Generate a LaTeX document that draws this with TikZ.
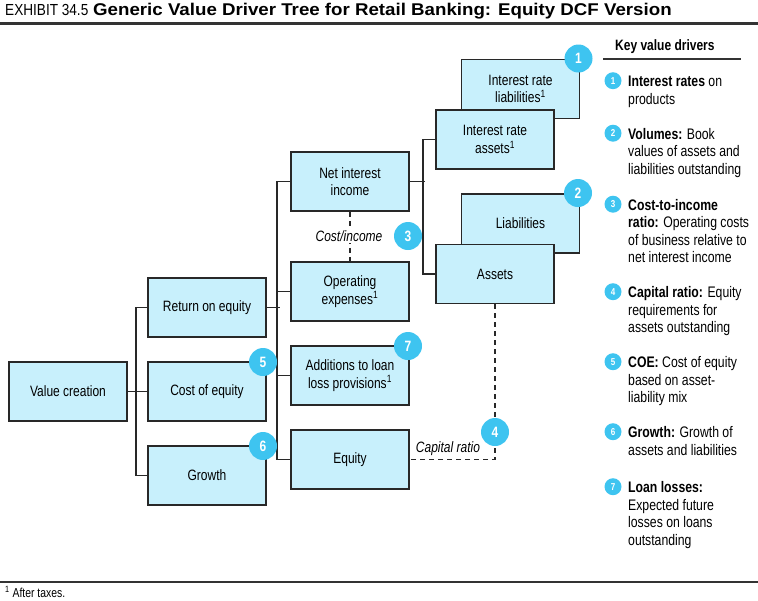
\documentclass[tikz,border=0pt]{standalone}
\usepackage{fontspec}
\setmainfont{Liberation Sans}[FakeStretch=0.8]
\newfontfamily\titlefont{Liberation Sans}[FakeStretch=0.85]
\newfontfamily\titlefontb{Liberation Sans}[FakeStretch=1.1]
\definecolor{boxfill}{RGB}{200,240,252}
\definecolor{badge}{RGB}{62,196,240}
\definecolor{edge}{RGB}{40,40,40}
\begin{document}
\begin{tikzpicture}[x=1pt,y=-1pt,
  box/.style={draw=edge, line width=1.6pt, fill=boxfill, minimum width=118pt, minimum height=59pt, inner sep=0pt, align=center, font=\fontsize{15}{17.5}\selectfont},
  badgeb/.style={circle, fill=badge, minimum size=28pt, inner sep=0pt, text=white, font=\bfseries\fontsize{15}{15}\selectfont},
  badges/.style={circle, fill=badge, minimum size=17pt, inner sep=0pt, text=white, font=\bfseries\fontsize{10}{10}\selectfont},
  link/.style={draw=edge, line width=1.6pt},
  dlink/.style={draw=edge, line width=1.6pt, dash pattern=on 5pt off 4pt},
  lab/.style={fill=white, inner sep=1pt, font=\itshape\fontsize{15}{15}\selectfont},
  keytext/.style={anchor=base west, inner sep=0pt, align=left, font=\fontsize{15.3}{17.6}\selectfont},
]
\useasboundingbox (0,0) rectangle (758,600);
% title
\node[anchor=base west, inner sep=0pt, font=\titlefont\fontsize{16}{16}\selectfont] (ex) at (5,15) {EXHIBIT 34.5};
\node[anchor=base west, inner sep=0pt, font=\titlefontb\bfseries\fontsize{17}{17}\selectfont] (title) at (93,15) {Generic Value Driver Tree for Retail Banking: Equity DCF Version};
\draw[line width=2.5pt, draw=black!80] (0,23.5) -- (758,23.5);
% back boxes
\node[box] (irl) at (520.5,89) {Interest rate\\liabilities\textsuperscript{1}};
\node[box] (lia) at (520.5,223.5) {Liabilities};
% boxes
\node[box] (vc) at (68,391.5) {Value creation};
\node[box] (roe) at (207,307.5) {Return on equity};
\node[box] (coe) at (207,391.5) {Cost of equity};
\node[box] (gr) at (207,475.5) {Growth};
\node[box] (nii) at (350,181.5) {Net interest\\income};
\node[box] (opex) at (350,291.5) {Operating\\expenses\textsuperscript{1}};
\node[box] (add) at (350,375.5) {Additions to loan\\loss provisions\textsuperscript{1}};
\node[box] (eq) at (350,459.5) {Equity};
\node[box] (ira) at (495,139.5) {Interest rate\\assets\textsuperscript{1}};
\node[box] (ast) at (495,274) {Assets};
% connectors
\draw[link] (vc.east) -- (coe.west);
\draw[link] (roe.west) -- ++(-11,0) |- (gr.west);
\draw[link] (roe.east) -- ++(13,0);
\draw[link] (nii.west) -- ++(-13,0) |- (eq.west);
\draw[link] (opex.west) -- ++(-13,0);
\draw[link] (add.west) -- ++(-13,0);
\draw[link] (nii.east) -- ++(15,0);
\draw[link] (ira.west) -- ++(-12,0) |- (ast.west);
% dashed ratios
\draw[dlink] (nii.south) -- (opex.north);
\node[lab] (ci) at (349,236) {Cost/income};
\draw[dlink] (ast.south) |- (eq.east);
\node[lab, fill=none] (cr) at (448,449) {Capital ratio};
% badges
\node[badgeb] (b1) at (578.5,58.5) {1};
\node[badgeb] (b2) at (578,193) {2};
\node[badgeb] (b3) at (408,236) {3};
\node[badgeb] (b4) at (495,432) {4};
\node[badgeb] (b5) at (263,362) {5};
\node[badgeb] (b6) at (263,446) {6};
\node[badgeb] (b7) at (408,346) {7};
% key
\node[anchor=base west, inner sep=0pt, font=\bfseries\fontsize{15}{15}\selectfont] (kh) at (615,50) {Key value drivers};
\draw[line width=1.3pt, draw=black!80] (603,59) -- (741,59);
\node[keytext] (k1) at (628,104.1) {\textbf{Interest rates} on\\products};
\node[keytext] (k2) at (628,174.2) {\textbf{Volumes:} Book\\values of assets and\\liabilities outstanding};
\node[keytext] (k3) at (628,262.8) {\textbf{Cost-to-income}\\\textbf{ratio:} Operating costs\\of business relative to\\net interest income};
\node[keytext] (k4) at (628,332.7) {\textbf{Capital ratio:} Equity\\requirements for\\assets outstanding};
\node[keytext] (k5) at (628,402.7) {\textbf{COE:} Cost of equity\\based on asset-\\liability mix};
\node[keytext] (k6) at (628,455.1) {\textbf{Growth:} Growth of\\assets and liabilities};
\node[keytext] (k7) at (628,545.3) {\textbf{Loan losses:}\\Expected future\\losses on loans\\outstanding};
\node[badges] (s1) at (613,80.7) {1};
\node[badges] (s2) at (613,133.2) {2};
\node[badges] (s3) at (613,204.2) {3};
\node[badges] (s4) at (613,291.7) {4};
\node[badges] (s5) at (613,361.7) {5};
\node[badges] (s6) at (613,431.7) {6};
\node[badges] (s7) at (613,486.7) {7};
% footnote
\draw[line width=2pt, draw=black!80] (0,582) -- (758,582);
\node[anchor=base west, inner sep=0pt, font=\fontsize{13}{13}\selectfont] (fn) at (5,597) {\textsuperscript{1} After taxes.};
\end{tikzpicture}
\end{document}
